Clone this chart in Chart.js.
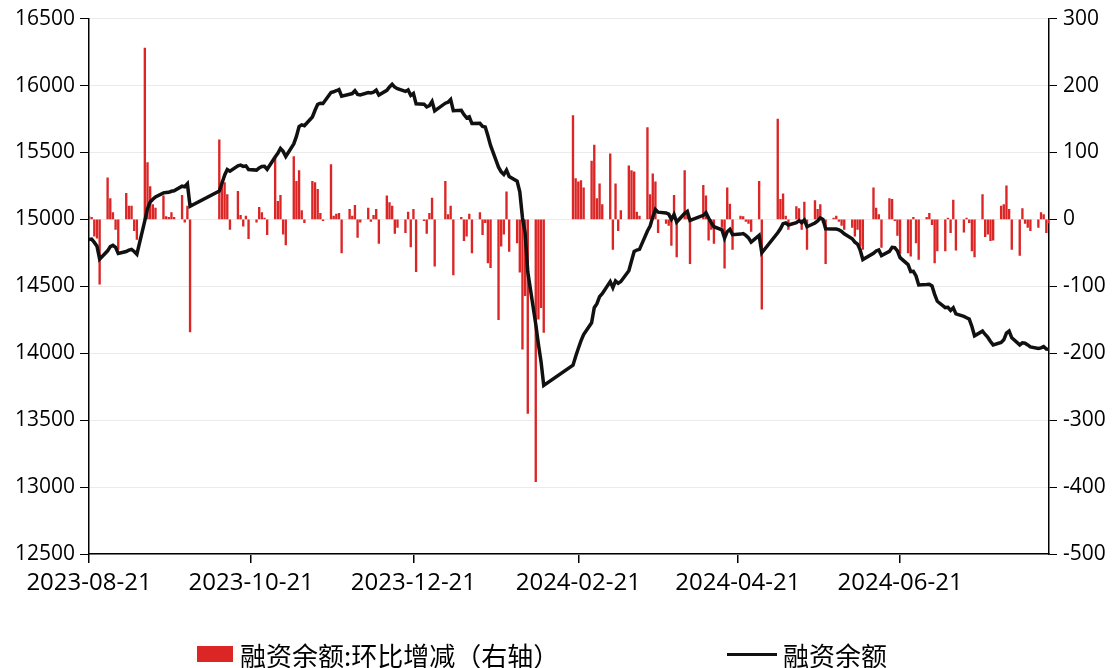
<!DOCTYPE html>
<html>
<head>
<meta charset="utf-8">
<script src="https://cdn.jsdelivr.net/npm/chart.js@4.4.1/dist/chart.umd.min.js"></script>
<style>
  html, body { margin: 0; padding: 0; background: #fff; }
  #wrap { position: relative; width: 1115px; height: 668px; }
  #legend { position: absolute; top: 640px; left: 0; width: 1115px; height: 28px;
    font-family: "Noto Sans CJK SC", sans-serif; font-size: 26px; color: #000; }
  .item { position: absolute; top: 0; height: 28px; display: flex; align-items: center; white-space: nowrap; }
  .box { width: 36px; height: 16px; background: #dc2626; margin-right: 7px; }
  .line { width: 50px; height: 3px; background: #111; margin-right: 6px; }
</style>
</head>
<body>
<div id="wrap">
  <canvas id="chart" width="1115" height="668"></canvas>
  <div id="legend">
    <div class="item" style="left:197px"><span class="box"></span>融资余额:环比增减（右轴）</div>
    <div class="item" style="left:727px"><span class="line"></span>融资余额</div>
  </div>
</div>
<script>
const startDate = "2023-08-21";
const endDate = "2024-08-16";
// exchange closed on these weekdays
const holidays = [
  "2023-09-29", "2023-10-02", "2023-10-03", "2023-10-04", "2023-10-05", "2023-10-06",
  "2024-01-01", "2024-02-09", "2024-02-12", "2024-02-13", "2024-02-14", "2024-02-15",
  "2024-02-16", "2024-04-04", "2024-04-05", "2024-05-01", "2024-05-02", "2024-05-03",
  "2024-06-10",
];
const tickDates = ["2023-08-21", "2023-10-21", "2023-12-21", "2024-02-21", "2024-04-21", "2024-06-21"];

// 融资余额 (left axis), one value per trading day
const balance = [
  // 2023-08
  14850, 14853, 14828, 14800, 14703, 14765, 14796, 14806, 14791,
  // 2023-09
  14746, 14760, 14770, 14776, 14760, 14740, 14990, 15080, 15130, 15150, 15168,
  15198, 15200, 15202, 15210, 15214, 15248, 15244, 15266, 15098,
  // 2023-10
  15212, 15270, 15330, 15372, 15360, 15400, 15405, 15396, 15400, 15372,
  15368, 15385, 15395, 15397, 15374, 15466, 15493,
  // 2023-11
  15530, 15508, 15470, 15564, 15620, 15693, 15706, 15700, 15765, 15815, 15860,
  15868, 15866, 15948, 15953, 15961, 15970, 15920, 15935, 15940, 15961, 15934,
  // 2023-12
  15930, 15947, 15944, 15950, 15965, 15929, 15964, 15989, 16009, 15988, 15976,
  15956, 15967, 15926, 15941, 15863, 15861, 15840, 15849, 15881, 15811,
  // 2024-01
  15868, 15875, 15895, 15812, 15815, 15783, 15758, 15766, 15716, 15718, 15695,
  15690, 15625, 15553, 15390, 15355, 15335, 15368, 15320, 15285, 15206, 15012,
  // 2024-02
  14898, 14608, 14216, 14067, 13935, 13760, 13910, 13975, 14035, 14092, 14140,
  14228, 14340, 14370, 14423,
  // 2024-03
  14445, 14535, 14490, 14540, 14523, 14536, 14616, 14689, 14760, 14771, 14776,
  14913, 14950, 15018, 15074, 15054, 15048, 15039, 15000, 15036, 14980,
  // 2024-04
  15045, 15060, 14992, 15030, 15050, 15010, 14975, 14945, 14922, 14860, 14908,
  14925, 14885, 14890, 14894, 14880, 14862, 14830, 14880, 14750,
  // 2024-05
  14900, 14930, 14968, 14973, 14958, 14975, 14990, 14975, 14995, 14945,
  14973, 14988, 15010, 15000, 14930, 14928, 14928, 14922, 14910, 14892,
  // 2024-06
  14855, 14830, 14815, 14770, 14700, 14747, 14764, 14771, 14730, 14761,
  14791, 14789, 14765, 14714, 14662, 14610, 14612, 14577, 14510,
  // 2024-07
  14513, 14515, 14503, 14440, 14388, 14341, 14343, 14320, 14340, 14294, 14275, 14265,
  14255, 14200, 14130, 14165, 14140, 14118, 14088, 14062, 14080, 14100, 14150,
  // 2024-08
  14165, 14115, 14062, 14078, 14075, 14062, 14047, 14035, 14040, 14050, 14032, 14030,
];

// 融资余额:环比增减 (right axis)
const change = [
  // 2023-08
  5, 3, -25, -28, -97, 62, 31, 10, -15,
  // 2023-09
  -45, 39, 20, 20, -17, -30, 256, 85, 49, 22, 17, 35, 4, 3, 10, 3, 36, -4, 20, -168,
  // 2023-10
  119, 57, 55, 37, -15, 42, 6, -10, 5, -29, -4, 18, 10, 2, -23, 92, 27,
  // 2023-11
  36, -22, -38, 94, 57, 73, 13, -5, 57, 55, 45, 9, -2, 82, 5, 8, 9, -50, 15, 5, 21, -27,
  // 2023-12
  -4, 17, -3, 6, 15, -36, 35, 25, 20, -21, -12, -20, 11, -41, 15, -78, -2, -21, 9, 32, -70,
  // 2024-01
  57, 7, 20, -83, 3, -32, -25, 8, -50, 10, -23, -5, -65, -72, -150, -40, -22, 41, -48, -35, -79, -194,
  // 2024-02
  -114, -290, -392, -149, -132, -169, 155, 61, 56, 58, 47, 87, 111, 31, 53,
  // 2024-03
  22, 98, -45, 53, -17, 13, 80, 73, 71, 11, 5, 137, 37, 68, 56, -20, -6, -9, -39, 36, -56,
  // 2024-04
  73, 13, -66, 51, 35, -31, -15, -36, -12, -73, 47, 23, -45, 5, 4, -3, -6, -18, 57, -134,
  // 2024-05
  150, 30, 38, 5, -15, 19, 16, -15, 26, -45, 28, 15, 22, -5, -66, 2, 5, -3, -9, -15,
  // 2024-06
  -12, -25, -15, -40, -45, 47, 17, 7, -42, 31, 30, -2, -24, -51, -50, -55, 3, -35, -60,
  // 2024-07
  3, 9, -8, -65, -47, -47, 2, -20, 29, -46, -19, 2, -5, -47, -56, 37, -26, -22, -32, -31, 20, 22, 50,
  // 2024-08
  15, -45, -54, 16, -6, -12, -17, -12, 10, 7, -20, -5,
];

const DAY = 864e5;
const t0 = Date.parse(startDate);
function dayNum(s) { return Math.round((Date.parse(s) - t0) / DAY); }
function dateStr(n) { return new Date(t0 + n * DAY).toISOString().slice(0, 10); }

// trading day offsets (calendar days since startDate)
const tradeDays = [];
for (let n = 0; n <= dayNum(endDate); n++) {
  const s = dateStr(n);
  const wd = new Date(s).getUTCDay();
  if (wd !== 0 && wd !== 6 && !holidays.includes(s)) tradeDays.push(n);
}
if (tradeDays.length !== balance.length || tradeDays.length !== change.length) {
  console.error("length mismatch", tradeDays.length, balance.length, change.length);
}

Chart.defaults.font.family = "Open Sans";
Chart.defaults.color = "#000";

const ctx = document.getElementById("chart").getContext("2d");
new Chart(ctx, {
  type: "bar",
  data: {
    datasets: [
      {
        type: "line",
        label: "融资余额",
        data: tradeDays.map((d, i) => ({ x: d, y: balance[i] })),
        yAxisID: "y",
        borderColor: "#111",
        borderWidth: 3.5,
        pointRadius: 0,
        tension: 0,
        order: 0,
      },
      {
        type: "bar",
        label: "融资余额:环比增减（右轴）",
        data: tradeDays.map((d, i) => ({ x: d, y: change[i] })),
        yAxisID: "y1",
        backgroundColor: "#dc2626",
        barThickness: 1.7,
        order: 1,
      },
    ],
  },
  options: {
    responsive: false,
    animation: false,
    devicePixelRatio: 1,
    layout: { padding: { top: 18, left: 0, right: 0, bottom: 0 } },
    plugins: { legend: { display: false }, tooltip: { enabled: false } },
    scales: {
      x: {
        type: "linear",
        offset: false,
        min: 0,
        max: dayNum(endDate),
        afterBuildTicks: (s) => { s.ticks = tickDates.map((t) => ({ value: dayNum(t) })); },
        afterFit: (s) => { s.height = 114; },
        ticks: {
          autoSkip: false,
          maxRotation: 0,
          align: "center",
          padding: 6,
          font: { size: 24 },
          callback: (v) => dateStr(v),
        },
        grid: { offset: false, drawOnChartArea: false, tickLength: 9, color: "#000", tickColor: "#000", lineWidth: 1.5 },
        border: { color: "#000", width: 1.5 },
      },
      y: {
        position: "left",
        min: 12500,
        max: 16500,
        afterFit: (s) => { s.width = 89; },
        ticks: { stepSize: 500, padding: 5, font: { size: 21 }, callback: (v) => String(v) },
        grid: { color: "#ebebeb", tickColor: "#000", tickLength: 9 },
        border: { color: "#000", width: 1.5 },
      },
      y1: {
        position: "right",
        min: -500,
        max: 300,
        afterFit: (s) => { s.width = 66; },
        ticks: { stepSize: 100, padding: 6, font: { size: 21 }, callback: (v) => String(v) },
        grid: { drawOnChartArea: false, tickColor: "#000", tickLength: 8 },
        border: { color: "#000", width: 1.5 },
      },
    },
  },
});
</script>
</body>
</html>
